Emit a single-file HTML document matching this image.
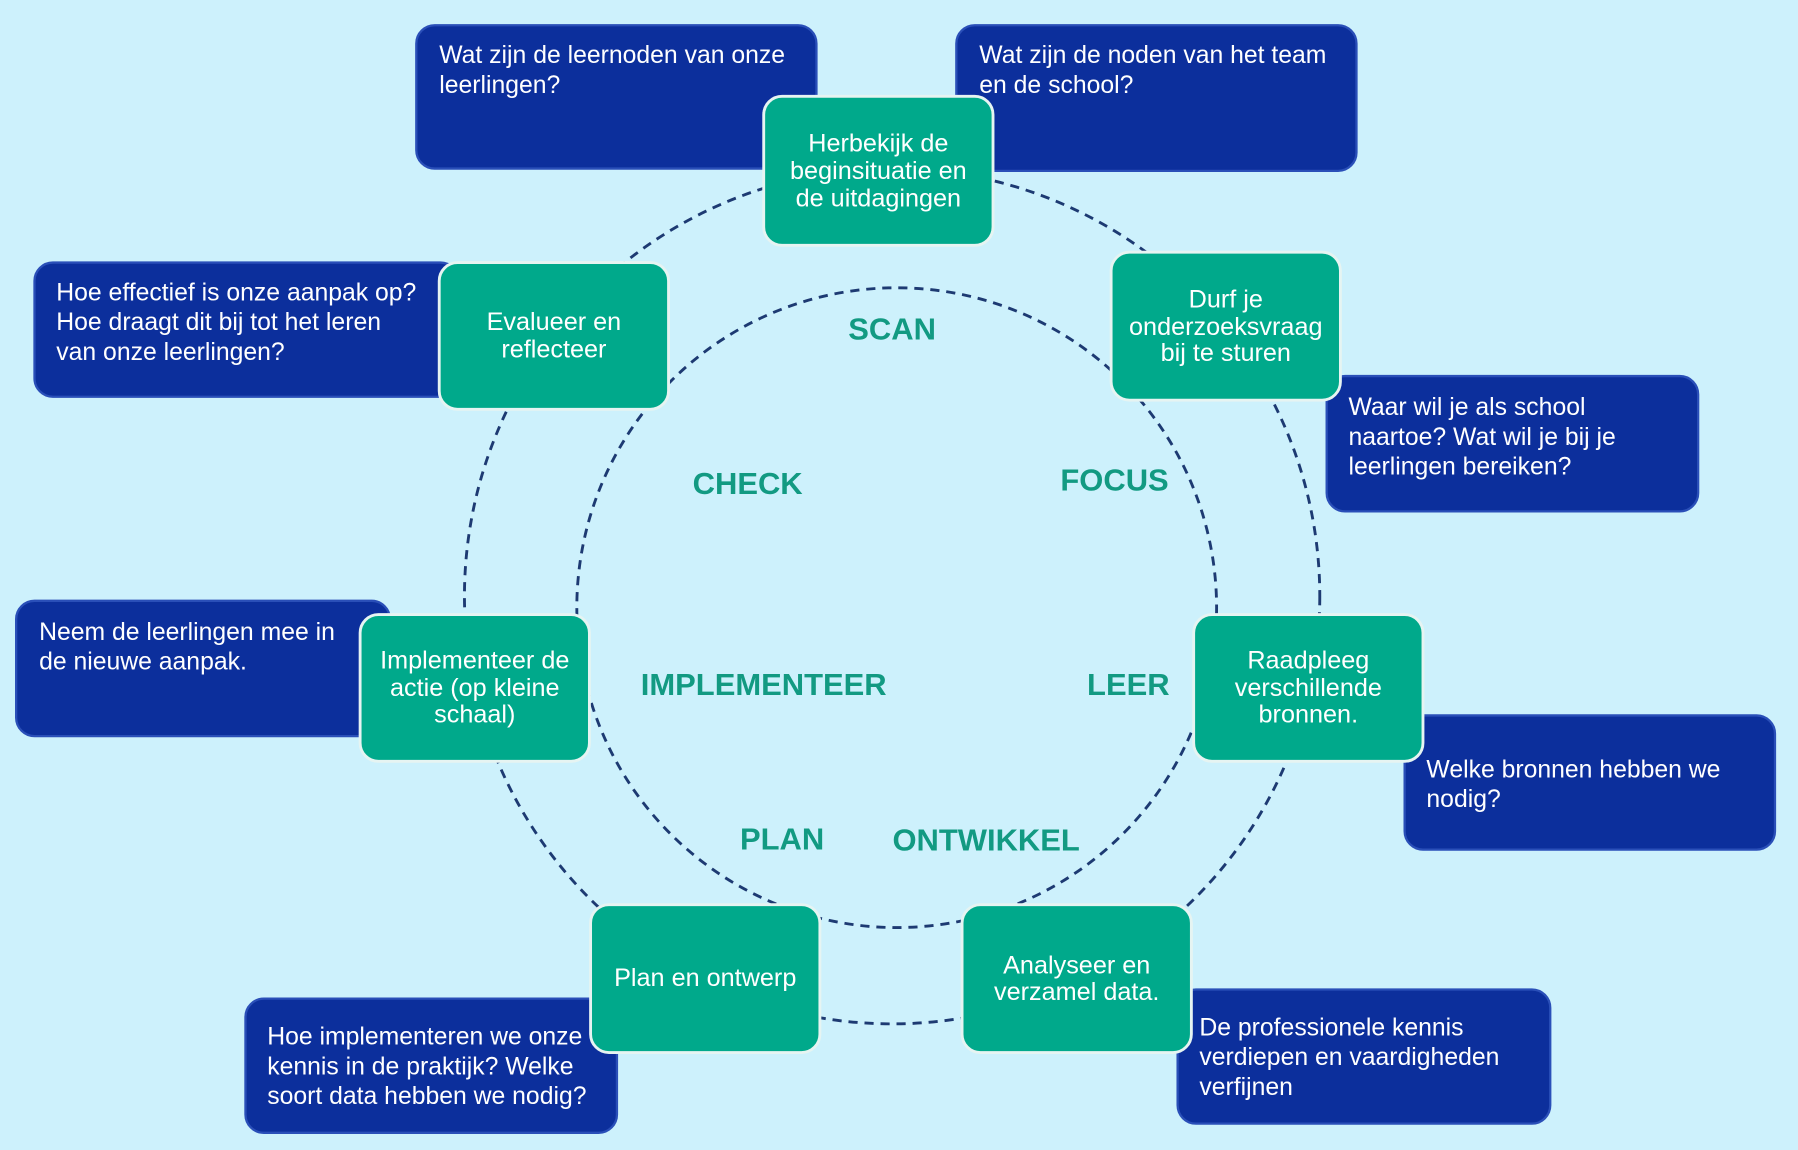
<!DOCTYPE html>
<html><head><meta charset="utf-8"><style>
html,body{margin:0;padding:0;background:#cdf1fc;}
svg{display:block}
.bt{font-family:"Liberation Sans",sans-serif;font-size:21.6px;fill:#fff;}
.gt{font-family:"Liberation Sans",sans-serif;font-size:22px;fill:#fff;text-anchor:middle;}
.lb{font-family:"Liberation Sans",sans-serif;font-size:27px;font-weight:bold;fill:#129a82;text-anchor:middle;}
.bb{fill:#0c2f9c;stroke:#2a4fb8;stroke-width:2;}
.gb{fill:#00a98b;stroke:#e6f4f2;stroke-width:2.5;}
</style></head><body>
<svg width="1798" height="1150" viewBox="0 0 1568 1003" xmlns="http://www.w3.org/2000/svg">
<rect width="1568" height="1003" fill="#cdf1fc"/>
<circle cx="778" cy="520" r="373" fill="none" stroke="#1d3a72" stroke-width="2.5" stroke-dasharray="8 6"/>
<circle cx="782" cy="530" r="279" fill="none" stroke="#1d3a72" stroke-width="2.5" stroke-dasharray="8 6"/>

<rect class="bb" x="363" y="22" width="349" height="125" rx="16"/>
<text class="bt" x="383" y="55">Wat zijn de leernoden van onze</text>
<text class="bt" x="383" y="81">leerlingen?</text>
<rect class="bb" x="834" y="22" width="349" height="127" rx="16"/>
<text class="bt" x="854" y="55">Wat zijn de noden van het team</text>
<text class="bt" x="854" y="81">en de school?</text>
<rect class="bb" x="30" y="229" width="370" height="117" rx="16"/>
<text class="bt" x="49" y="262">Hoe effectief is onze aanpak op?</text>
<text class="bt" x="49" y="288">Hoe draagt dit bij tot het leren</text>
<text class="bt" x="49" y="314">van onze leerlingen?</text>
<rect class="bb" x="1157" y="328" width="324" height="118" rx="16"/>
<text class="bt" x="1176" y="362">Waar wil je als school</text>
<text class="bt" x="1176" y="388">naartoe? Wat wil je bij je</text>
<text class="bt" x="1176" y="414">leerlingen bereiken?</text>
<rect class="bb" x="14" y="524" width="326" height="118" rx="16"/>
<text class="bt" x="34" y="558">Neem de leerlingen mee in</text>
<text class="bt" x="34" y="584">de nieuwe aanpak.</text>
<rect class="bb" x="1225" y="624" width="323" height="117" rx="16"/>
<text class="bt" x="1244" y="678">Welke bronnen hebben we</text>
<text class="bt" x="1244" y="704">nodig?</text>
<rect class="bb" x="214" y="871" width="324" height="117" rx="16"/>
<text class="bt" x="233" y="911">Hoe implementeren we onze</text>
<text class="bt" x="233" y="937">kennis in de praktijk? Welke</text>
<text class="bt" x="233" y="963">soort data hebben we nodig?</text>
<rect class="bb" x="1027" y="863" width="325" height="117" rx="16"/>
<text class="bt" x="1046" y="903">De professionele kennis</text>
<text class="bt" x="1046" y="929">verdiepen en vaardigheden</text>
<text class="bt" x="1046" y="955">verfijnen</text>

<rect class="gb" x="666" y="84" width="200" height="130" rx="16"/>
<text class="gt" x="766" y="132">Herbekijk de</text>
<text class="gt" x="766" y="156">beginsituatie en</text>
<text class="gt" x="766" y="180">de uitdagingen</text>
<rect class="gb" x="969" y="220" width="200" height="129" rx="16"/>
<text class="gt" x="1069" y="268">Durf je</text>
<text class="gt" x="1069" y="292">onderzoeksvraag</text>
<text class="gt" x="1069" y="315">bij te sturen</text>
<rect class="gb" x="383" y="229" width="200" height="128" rx="16"/>
<text class="gt" x="483" y="288">Evalueer en</text>
<text class="gt" x="483" y="312">reflecteer</text>
<rect class="gb" x="1041" y="536" width="200" height="128" rx="16"/>
<text class="gt" x="1141" y="583">Raadpleeg</text>
<text class="gt" x="1141" y="607">verschillende</text>
<text class="gt" x="1141" y="630">bronnen.</text>
<rect class="gb" x="314" y="536" width="200" height="128" rx="16"/>
<text class="gt" x="414" y="583">Implementeer de</text>
<text class="gt" x="414" y="607">actie (op kleine</text>
<text class="gt" x="414" y="630">schaal)</text>
<rect class="gb" x="515" y="789" width="200" height="129" rx="16"/>
<text class="gt" x="615" y="860">Plan en ontwerp</text>
<rect class="gb" x="839" y="789" width="200" height="129" rx="16"/>
<text class="gt" x="939" y="849">Analyseer en</text>
<text class="gt" x="939" y="872">verzamel data.</text>

<text class="lb" x="778" y="296">SCAN</text>
<text class="lb" x="652" y="431">CHECK</text>
<text class="lb" x="972" y="428">FOCUS</text>
<text class="lb" x="666" y="606">IMPLEMENTEER</text>
<text class="lb" x="984" y="606">LEER</text>
<text class="lb" x="682" y="741">PLAN</text>
<text class="lb" x="860" y="742">ONTWIKKEL</text>
</svg>
</body></html>
